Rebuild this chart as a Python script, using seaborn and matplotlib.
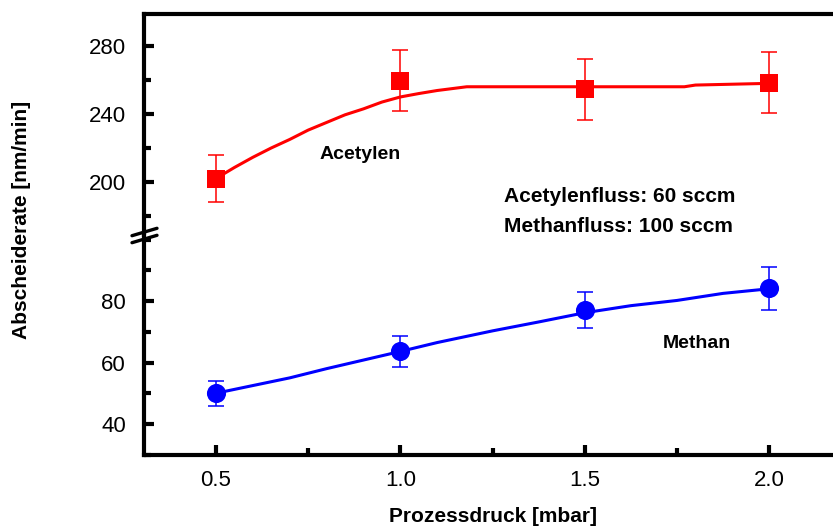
import numpy as np
import pandas as pd
import matplotlib
matplotlib.use("Agg")
import matplotlib.pyplot as plt
from matplotlib.ticker import MultipleLocator
from matplotlib.lines import Line2D
import seaborn as sns

# ---- data ----
druck = [0.5, 1.0, 1.5, 2.0]
acetylen_rate = [202, 259.5, 254.5, 258.5]
acetylen_err = [14, 18, 18, 18]
methan_rate = [50, 63.7, 77.1, 84.2]
methan_err = [4, 5, 6, 7]

# fitted curves
acetylen_fit_x = [0.5, 0.55, 0.6, 0.65, 0.7, 0.75, 0.8, 0.85, 0.9, 0.95, 1.0, 1.05, 1.1, 1.18, 1.77, 1.8, 2.0]
acetylen_fit_y = [202, 208.5, 214.5, 220, 225, 230.5, 235, 239.5, 243, 247, 250, 252, 253.8, 256, 256, 257, 258]
methan_fit_x = [0.5, 0.6, 0.7, 0.8, 0.9, 1.0, 1.1, 1.25, 1.375, 1.5, 1.625, 1.75, 1.875, 2.0]
methan_fit_y = [50, 52.5, 55, 58, 60.8, 63.6, 66.5, 70.3, 73.2, 76.2, 78.5, 80.2, 82.5, 84]

x_ticks = [0.5, 1.0, 1.5, 2.0]
x_ticklabels = ["0.5", "1.0", "1.5", "2.0"]
top_ticks = [200, 240, 280]
bottom_ticks = [40, 60, 80]

label_acetylen = "Acetylen"
label_methan = "Methan"
note1 = "Acetylenfluss: 60 sccm"
note2 = "Methanfluss: 100 sccm"
xlabel = "Prozessdruck [mbar]"
ylabel = "Abscheiderate [nm/min]"

RED = "#ff0000"
BLUE = "#0000ff"

sns.set_style("white")
plt.rcParams["font.family"] = ["Liberation Sans", "DejaVu Sans"]
for k in ("text.color", "axes.labelcolor", "xtick.color", "ytick.color", "axes.edgecolor"):
    plt.rcParams[k] = "black"

W, H = 833, 530
fig = plt.figure(figsize=(W / 100, H / 100), dpi=100)
left = 144 / W
right = 1.0
y_top = 1 - 14 / H
y_break = 1 - 235 / H
y_bot = 1 - 455 / H
ax_top = fig.add_axes([left, y_break, right - left, y_top - y_break])
ax_bot = fig.add_axes([left, y_bot, right - left, y_break - y_bot], sharex=ax_top)

df_a = pd.DataFrame({"x": acetylen_fit_x, "y": acetylen_fit_y})
df_m = pd.DataFrame({"x": methan_fit_x, "y": methan_fit_y})
pts_a = pd.DataFrame({"x": druck, "y": acetylen_rate})
pts_m = pd.DataFrame({"x": druck, "y": methan_rate})

sns.lineplot(data=df_a, x="x", y="y", ax=ax_top, color=RED, lw=2.2, sort=False, zorder=2)
ax_top.errorbar(druck, acetylen_rate, yerr=acetylen_err, fmt="none", ecolor=RED,
                elinewidth=1.1, capsize=6, capthick=1.1, zorder=3)
sns.scatterplot(data=pts_a, x="x", y="y", ax=ax_top, marker="s", s=150, color=RED,
                edgecolor=RED, linewidth=0, zorder=4)

sns.lineplot(data=df_m, x="x", y="y", ax=ax_bot, color=BLUE, lw=2.2, sort=False, zorder=2)
ax_bot.errorbar(druck, methan_rate, yerr=methan_err, fmt="none", ecolor=BLUE,
                elinewidth=1.1, capsize=6, capthick=1.1, zorder=3)
sns.scatterplot(data=pts_m, x="x", y="y", ax=ax_bot, marker="o", s=190, color=BLUE,
                edgecolor=BLUE, linewidth=0, zorder=4)

ax_top.set_xlim(0.305, 2.173)
ax_top.set_ylim(168.8, 298.8)
ax_bot.set_ylim(29.9, 101.5)

lw_sp = 3.0
for ax in (ax_top, ax_bot):
    ax.set_xlabel("")
    ax.set_ylabel("")
    ax.spines["right"].set_visible(False)
    ax.spines["left"].set_linewidth(lw_sp)
    ax.spines["left"].set_color("black")
    ax.tick_params(axis="y", which="major", direction="in", length=7, width=3,
                   labelsize=16, pad=13, left=True, colors="black")
    ax.tick_params(axis="y", which="minor", direction="in", length=5, width=3, left=True,
                   colors="black")

ax_top.spines["bottom"].set_visible(False)
ax_top.spines["top"].set_linewidth(lw_sp)
ax_top.spines["top"].set_color("black")
ax_top.tick_params(axis="x", which="both", bottom=False, top=False, labelbottom=False)
ax_top.set_yticks(top_ticks)
ax_top.yaxis.set_minor_locator(MultipleLocator(20))

ax_bot.spines["top"].set_visible(False)
ax_bot.spines["bottom"].set_linewidth(lw_sp)
ax_bot.spines["bottom"].set_color("black")
ax_bot.set_yticks(bottom_ticks)
ax_bot.yaxis.set_minor_locator(MultipleLocator(10))
ax_bot.set_xticks(x_ticks)
ax_bot.set_xticklabels(x_ticklabels)
ax_bot.xaxis.set_minor_locator(MultipleLocator(0.25))
ax_bot.tick_params(axis="x", which="major", direction="in", length=7, width=3,
                   labelsize=16, pad=11, bottom=True, colors="black")
ax_bot.tick_params(axis="x", which="minor", direction="in", length=5, width=3, bottom=True,
                   colors="black")

# annotations
ax_top.text(0.89, 215.9, label_acetylen, ha="center", va="center", fontsize=14, fontweight="bold")
ax_top.text(1.595, 191.2, note1, ha="center", va="center", fontsize=15, fontweight="bold")
ax_top.text(1.59, 174.0, note2, ha="center", va="center", fontsize=15, fontweight="bold")
ax_bot.text(1.804, 66.2, label_methan, ha="center", va="center", fontsize=14, fontweight="bold")

# axis labels
fig.text(493 / W, 1 - 517 / H, xlabel, ha="center", va="center", fontsize=15, fontweight="bold")
fig.text(22 / W, 1 - 220 / H, ylabel, ha="center", va="center", rotation=90,
         fontsize=15, fontweight="bold")

# axis break marks
for yc in (232, 239):
    fig.add_artist(Line2D([132 / W, 157 / W], [1 - (yc + 3.7) / H, 1 - (yc - 3.7) / H],
                          transform=fig.transFigure, color="black", lw=2.4,
                          solid_capstyle="round"))

fig.savefig("out.png", dpi=100)
